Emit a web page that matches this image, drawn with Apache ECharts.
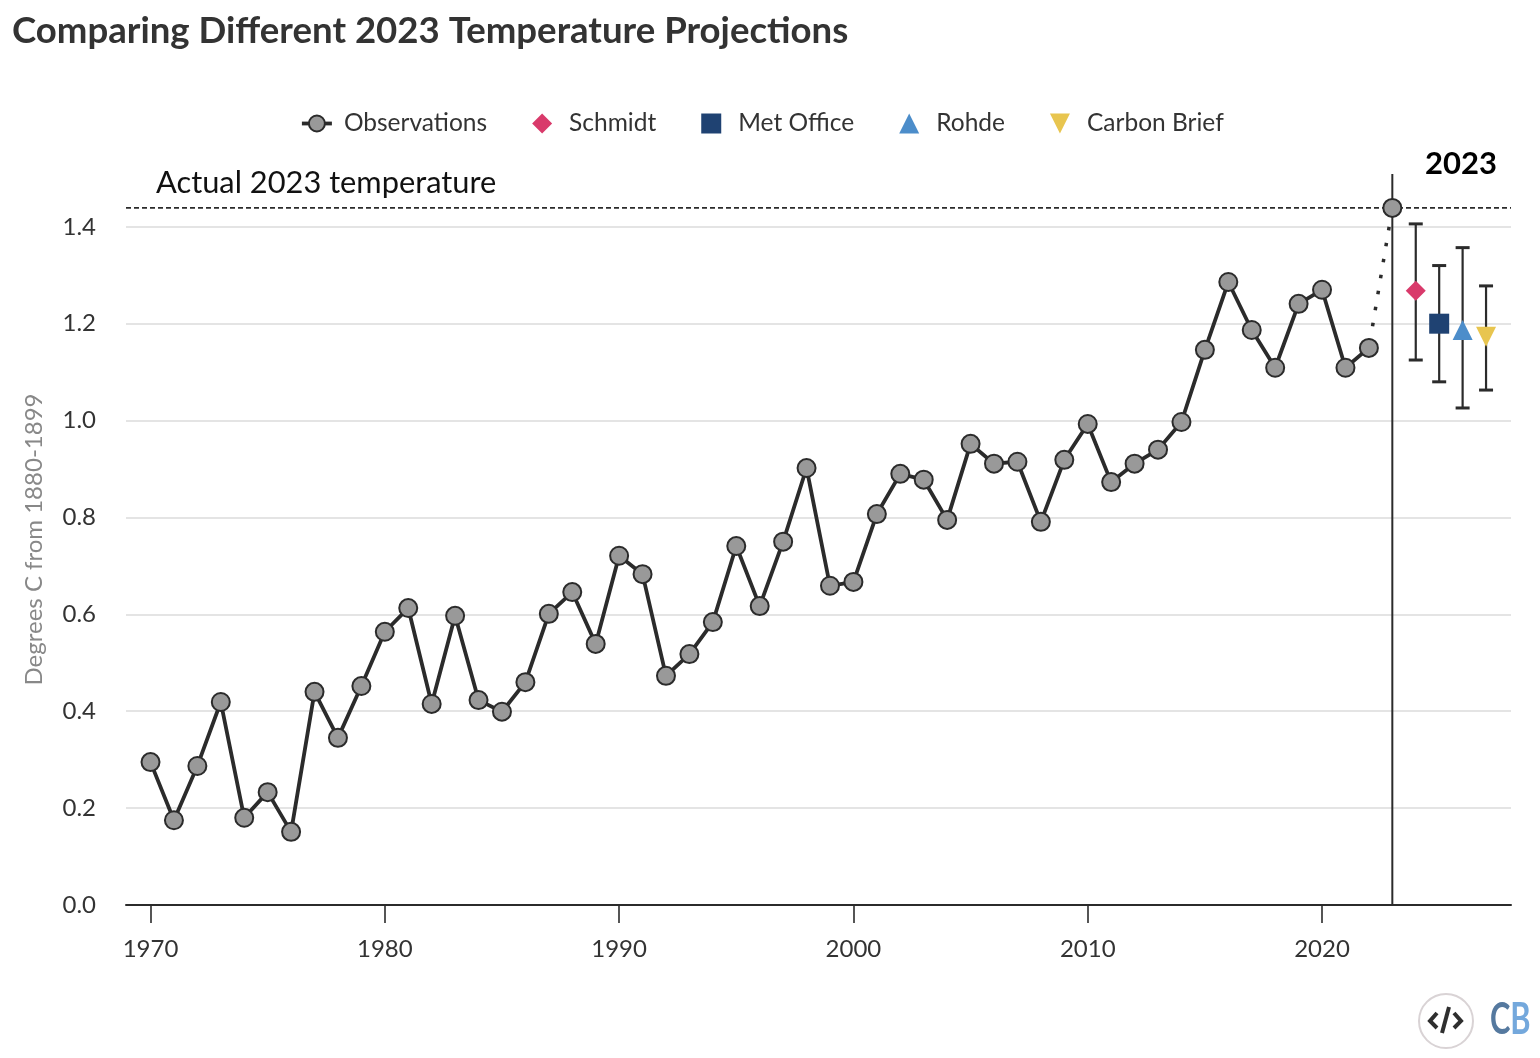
<!DOCTYPE html>
<html>
<head>
<meta charset="utf-8">
<style>html,body{margin:0;padding:0;background:#fff}#chart{width:1540px;height:1058px}</style>
<script src="https://cdn.jsdelivr.net/npm/echarts@6/dist/echarts.min.js"></script>
</head>
<body>
<div id="chart"></div>
<script>
const years = [1970,1971,1972,1973,1974,1975,1976,1977,1978,1979,1980,1981,1982,1983,1984,1985,1986,1987,1988,1989,1990,1991,1992,1993,1994,1995,1996,1997,1998,1999,2000,2001,2002,2003,2004,2005,2006,2007,2008,2009,2010,2011,2012,2013,2014,2015,2016,2017,2018,2019,2020,2021,2022];
const observed = [0.295,0.175,0.287,0.419,0.18,0.233,0.151,0.44,0.345,0.452,0.564,0.613,0.415,0.597,0.423,0.399,0.46,0.601,0.646,0.539,0.721,0.683,0.473,0.518,0.584,0.741,0.617,0.75,0.902,0.659,0.667,0.807,0.89,0.878,0.795,0.952,0.911,0.915,0.791,0.919,0.993,0.873,0.911,0.94,0.997,1.146,1.286,1.187,1.109,1.241,1.27,1.109,1.15];
const actualYear = 2023;
const actual2023 = 1.439;

const projNames = ['Schmidt','Met Office','Rohde','Carbon Brief'];
const projX = [2024,2025,2026,2027];
const projMid = [1.268,1.2,1.187,1.173];
const projLow = [1.125,1.08,1.026,1.063];
const projHigh = [1.406,1.32,1.357,1.278];
const projColors = ['#d93a6b','#1f4272','#4c8dca','#e8c54f'];
const projSymbols = ['diamond','rect','triangle','triangle'];
const projRotate = [0,0,0,180];
const legendIcons = ['path://M10 0L20 10L10 20L0 10Z','path://M0 0H20V20H0Z','path://M10 0L20 20H0Z','path://M0 0H20L10 20Z'];

const yTicks = [0,0.2,0.4,0.6,0.8,1.0,1.2,1.4];
const xTicks = [1970,1980,1990,2000,2010,2020];

const FONT = 'Lato';
const DARK = '#2b2b2b';
const xMin = 1968.954, xMax = 2028.065, yMax = 1.509;

const myChart = echarts.init(document.getElementById('chart'), null, {renderer:'canvas'});

// error bars go through api.coord so they stay on the axis scales
function errorBar(params, api) {
    const x = api.value(0);
    const lo = api.coord([x, api.value(1)]);
    const hi = api.coord([x, api.value(2)]);
    const cap = 7;
    const style = {stroke: DARK, lineWidth: 2.2, fill: 'none'};
    return {type:'group', children:[
        {type:'line', shape:{x1:lo[0],y1:lo[1],x2:hi[0],y2:hi[1]}, style},
        {type:'line', shape:{x1:lo[0]-cap,y1:lo[1],x2:lo[0]+cap,y2:lo[1]}, style:{...style,lineWidth:3}},
        {type:'line', shape:{x1:hi[0]-cap,y1:hi[1],x2:hi[0]+cap,y2:hi[1]}, style:{...style,lineWidth:3}}
    ]};
}

const obsItem = {color:'#999999', borderColor:DARK, borderWidth:2, opacity:1};

const series = [
    {
        type:'line', name:'Observations', z:5, silent:true,
        data: years.map((y,i)=>[y,observed[i]]),
        symbol:'circle', symbolSize:18,
        lineStyle:{color:DARK,width:3.8},
        itemStyle:obsItem
    },
    {
        type:'line', name:'Observed 2023', z:3, silent:true,
        data:[
            {value:[years[years.length-1],observed[observed.length-1]],symbol:'none'},
            {value:[actualYear,actual2023],symbol:'circle',symbolSize:18,itemStyle:obsItem}
        ],
        lineStyle:{color:DARK,width:3.5,type:[3.5,12.7],dashOffset:10.4},
        itemStyle:obsItem
    },
    {
        type:'line', name:'line2023', z:2, silent:true, symbol:'none',
        data:[[actualYear,0],[actualYear,yMax]],
        lineStyle:{color:DARK,width:2}
    },
    {
        type:'line', name:'actual', z:2, silent:true, symbol:'none',
        data:[[xMin,actual2023],[xMax,actual2023]],
        lineStyle:{color:DARK,width:1.6,type:[5,3]}
    },
    {
        type:'custom', name:'ranges', z:4, silent:true,
        data: projX.map((x,i)=>[x,projLow[i],projHigh[i]]),
        encode:{x:0,y:[1,2]},
        renderItem:errorBar
    }
];
projNames.forEach((name,i)=>{
    series.push({
        type:'scatter', name, z:6, silent:true,
        data:[[projX[i],projMid[i]]],
        symbol:projSymbols[i], symbolRotate:projRotate[i], symbolSize:20,
        itemStyle:{color:projColors[i],opacity:1}
    });
});

const option = {
    animation:false,
    backgroundColor:'#fff',
    textStyle:{fontFamily:FONT},
    title:{show:false},
    tooltip:{show:false},
    legend:{
        left:300, top:111, padding:0,
        itemWidth:30, itemHeight:20, itemGap:45,
        data:[
            {name:'Observations',lineStyle:{color:DARK,width:3.8}},
            ...projNames.map((name,i)=>({name,icon:legendIcons[i],itemStyle:{color:projColors[i],opacity:1},symbolRotate:0}))
        ],
        selectedMode:false,
        textStyle:{fontFamily:FONT,fontSize:24.5,color:'#333',padding:[0,0,0,7]}
    },
    grid:{left:126,right:29,top:174,bottom:153,containLabel:false},
    xAxis:{
        type:'value', min:xMin, max:xMax,
        splitLine:{show:false},
        axisLine:{lineStyle:{color:DARK,width:2}},
        axisTick:{show:true,length:18,customValues:xTicks,lineStyle:{color:DARK,width:1.6}},
        axisLabel:{customValues:xTicks,formatter:v=>String(v),margin:32,fontFamily:FONT,fontSize:24,color:'#333'}
    },
    yAxis:{
        type:'value', min:0, max:yMax,
        name:'Degrees C from 1880-1899',
        nameLocation:'middle', nameGap:80, nameRotate:90,
        nameTextStyle:{fontFamily:FONT,fontSize:24,color:'#888'},
        axisLine:{show:false},
        axisTick:{show:false,customValues:yTicks},
        splitLine:{show:true,lineStyle:{color:'#e4e4e4',width:2}},
        axisLabel:{customValues:yTicks,formatter:v=>v.toFixed(1),margin:30,padding:[3,0,0,0],fontFamily:FONT,fontSize:24,color:'#333'}
    },
    series,
    graphic:[
        {type:'text',left:12,top:13,style:{text:'Comparing Different 2023 Temperature Projections',fontFamily:FONT,fontWeight:'bold',fontSize:36.6,fill:'#333'}},
        {type:'text',left:156,top:168,style:{text:'Actual 2023 temperature',fontFamily:FONT,fontSize:30.8,fill:'#111'}},
        {type:'text',left:1425,top:148,style:{text:'2023',fontFamily:FONT,fontWeight:'bold',fontSize:31,fill:'#000'}},
        {type:'circle',shape:{cx:1446,cy:1021,r:27},style:{fill:'#fff',stroke:'#d9d3d5',lineWidth:2}},
        {type:'polyline',shape:{points:[[1437,1013],[1430,1021],[1437,1028]]},style:{fill:'none',stroke:'#2f2f2f',lineWidth:4}},
        {type:'polyline',shape:{points:[[1454,1013],[1461,1021],[1454,1028]]},style:{fill:'none',stroke:'#2f2f2f',lineWidth:4}},
        {type:'line',shape:{x1:1449,y1:1007,x2:1442,y2:1033},style:{stroke:'#2f2f2f',lineWidth:4}},
        {type:'text',x:1490,y:1020,scaleX:0.7,style:{text:'{c|C}{b|B}',verticalAlign:'middle',rich:{c:{fontFamily:FONT,fontWeight:'bold',fontSize:44,fill:'#55799f'},b:{fontFamily:FONT,fontWeight:'bold',fontSize:44,fill:'#74a8dc'}}}}
    ]
};

myChart.setOption(option);
</script>
</body>
</html>
